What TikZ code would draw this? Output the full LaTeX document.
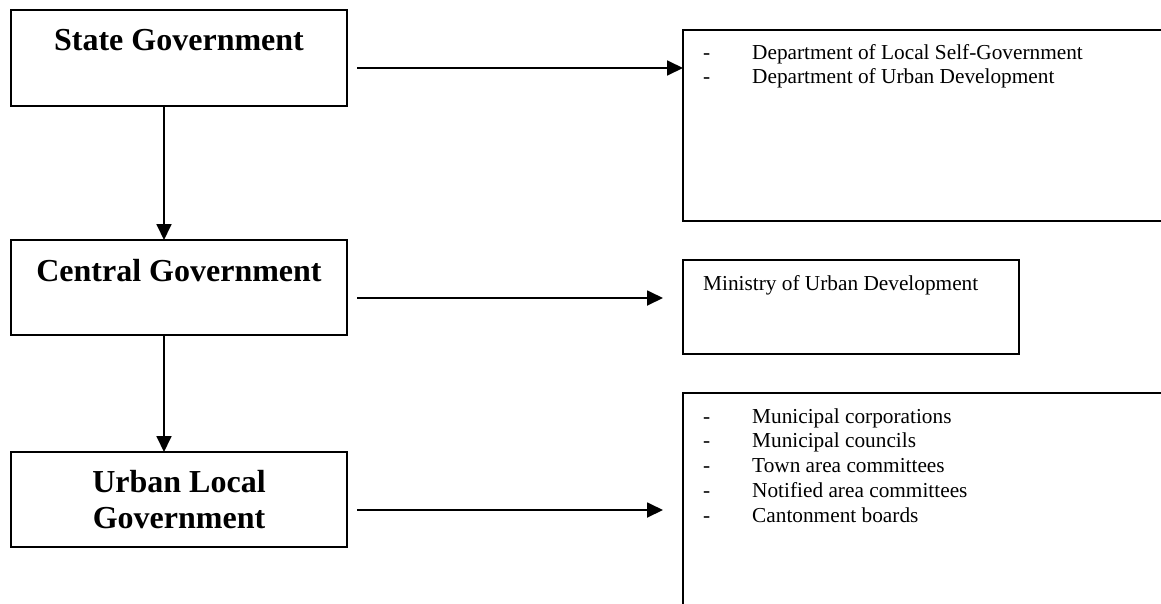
\documentclass[tikz,border=0pt]{standalone}
\usepackage{fontspec}
\setmainfont{Liberation Serif}
\usetikzlibrary{arrows.meta}

\tikzset{
  frame/.style={draw, line width=1.8pt, inner sep=0pt, outer sep=0pt},
  govbox/.style={frame, minimum width=336pt},
  title/.style={font=\fontsize{32}{36}\selectfont\bfseries, anchor=base, inner sep=0pt},
  dashmark/.style={font=\fontsize{21.3}{24.75}\selectfont, anchor=base west, inner sep=0pt},
  item/.style={font=\fontsize{21.3}{24.75}\selectfont, anchor=base west, inner sep=0pt},
  arr/.style={line width=1.8pt, -{Triangle[length=16pt,width=15pt]}}
}

\begin{document}
\begin{tikzpicture}[x=1pt, y=-1pt]
  \useasboundingbox (0,0) rectangle (1161,603);
  \clip (0,0) rectangle (1161,603);

  % left column: levels of government
  \node[govbox, minimum height=96pt] (state)   at (179,58)    {};
  \node[govbox, minimum height=95pt] (central) at (179,287.5) {};
  \node[govbox, minimum height=95pt] (urban)   at (179,499.5) {};

  \node[title] (stateT)   at (179,50)  {State Government};
  \node[title] (centralT) at (179,281) {Central Government};
  \node[title] (urbanT1)  at (179,492) {Urban Local};
  \node[title] (urbanT2)  at (179,528) {Government};

  % right column: responsible bodies
  \node[frame, minimum width=492pt, minimum height=191pt] (dept)     at (929,125.5) {};
  \node[frame, minimum width=336pt, minimum height=94pt]  (ministry) at (851,307)   {};
  \node[frame, minimum width=492pt, minimum height=232pt] (ulb)      at (929,509)   {};

  \foreach \t [count=\i] in {Department of Local Self-Government, Department of Urban Development} {
    \node[dashmark] (dd\i) at ({703},{59+24.5*(\i-1)}) {-};
    \node[item]     (di\i) at ({752},{59+24.5*(\i-1)}) {\t};
  }
  \node[item] (min) at (703,290) {Ministry of Urban Development};
  \foreach \t [count=\i] in {Municipal corporations, Municipal councils, Town area committees, Notified area committees, Cantonment boards} {
    \node[dashmark] (ud\i) at ({703},{423+24.75*(\i-1)}) {-};
    \node[item]     (ui\i) at ({752},{423+24.75*(\i-1)}) {\t};
  }

  % vertical links
  \draw[arr] ([xshift=-15pt]state.south)   -- ([xshift=-15pt]central.north);
  \draw[arr] ([xshift=-15pt]central.south) -- ([xshift=-15pt]urban.north);

  % horizontal links
  \coordinate (s1) at ([shift={(10pt,-10pt)}]state.east);
  \coordinate (s2) at ([shift={(10pt,-10.5pt)}]central.east);
  \coordinate (s3) at ([shift={(10pt,-10.5pt)}]urban.east);
  \draw[arr] (s1) -- (dept.west |- s1);
  \draw[arr] (s2) -- ([xshift=-20pt]ministry.west |- s2);
  \draw[arr] (s3) -- ([xshift=-20pt]ulb.west |- s3);
\end{tikzpicture}
\end{document}
